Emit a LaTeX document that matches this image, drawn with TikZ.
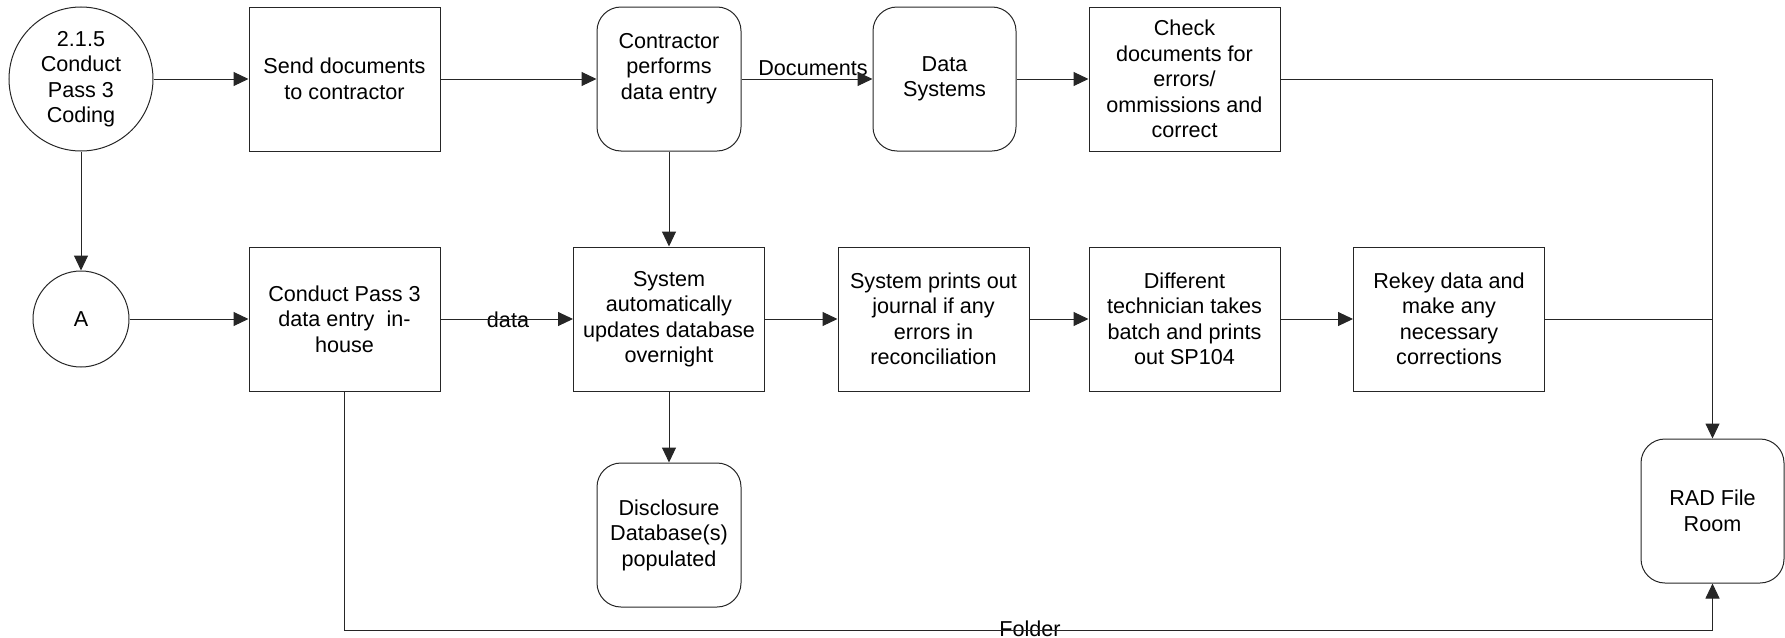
\documentclass[tikz,border=0pt]{standalone}
\usepackage{fontspec}
\setmainfont{Liberation Sans}
\usetikzlibrary{arrows.meta}
\begin{document}
\begin{tikzpicture}[x=1pt,y=-1pt,
  every node/.style={font=\fontsize{21.6}{25.5}\selectfont, align=center, inner sep=0pt},
  proc/.style={draw=black!85, line width=1pt, rectangle, minimum width=191pt, minimum height=144pt},
  rbox/.style={draw=black!85, line width=1pt, rectangle, rounded corners=24pt, minimum width=144pt, minimum height=144pt},
  conn/.style={draw=black!85, line width=1pt, circle},
  flow/.style={draw=black!85, line width=1pt, -{Triangle[length=15pt,width=14pt]}},
  plain/.style={draw=black!85, line width=1pt},
  lbl/.style={anchor=base}
]
\useasboundingbox (0,0) rectangle (1785,637);
% row 1
\node[conn, minimum size=144pt] (c1) at (81,79) {2.1.5\\Conduct\\Pass 3\\Coding};
\node[proc] (send) at (344.5,79) {Send documents\\to contractor};
\node[rbox] (contr) at (669,79) {Contractor\\performs\\data entry\\\mbox{}};
\node[rbox, minimum width=143pt] (datasys) at (944.5,79) {Data\\Systems};
\node[proc] (check) at (1184.5,79) {Check\\documents for\\errors/\\ommissions and\\correct};
% row 2
\node[conn, minimum size=96pt] (A) at (81,319) {A};
\node[proc] (conduct) at (344.5,319) {Conduct Pass 3\\data entry~~in-\\house};
\node[proc] (sysauto) at (669,319) {System\\automatically\\updates database\\overnight};
\node[proc] (sysprint) at (933.5,319) {System prints out\\journal if any\\errors in\\reconciliation};
\node[proc] (diff) at (1184.5,319) {Different\\technician takes\\batch and prints\\out SP104};
\node[proc] (rekey) at (1449,319) {Rekey data and\\make any\\necessary\\corrections};
% others
\node[rbox] (disc) at (669,535) {Disclosure\\Database(s)\\populated};
\node[rbox, minimum width=143pt] (rad) at (1712.5,511) {RAD File\\Room};
% labels
\node[lbl] (doclbl) at (813,75) {Documents};
\node[lbl] (datalbl) at (508,327) {data};
\node[lbl] (folderlbl) at (1030,636) {Folder};
\coordinate (fb) at (1712.5,630);
% connectors
\draw[flow] (c1) -- (send);
\draw[flow] (send) -- (contr);
\draw[flow] (contr) -- (datasys);
\draw[flow] (datasys) -- (check);
\draw[flow] (check.east) -| (rad.north);
\draw[plain] (rekey.east) -- (rekey.east -| rad.north);
\draw[flow] (c1) -- (A);
\draw[flow] (A) -- (conduct);
\draw[flow] (conduct) -- (sysauto);
\draw[flow] (contr) -- (sysauto);
\draw[flow] (sysauto) -- (sysprint);
\draw[flow] (sysprint) -- (diff);
\draw[flow] (diff) -- (rekey);
\draw[flow] (sysauto) -- (disc);
\draw[flow] (conduct.south) -- (conduct.south |- fb) -- (fb) -- (rad.south);
\end{tikzpicture}
\end{document}
